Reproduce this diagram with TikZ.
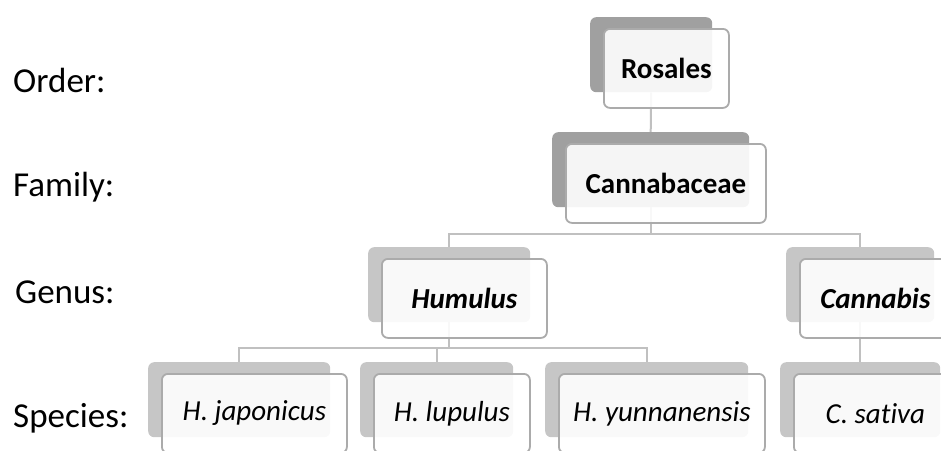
\documentclass[tikz,border=0pt]{standalone}
\usepackage{fontspec}
\setmainfont{Carlito}[Ligatures=NoCommon]
\usetikzlibrary{backgrounds}
\definecolor{shadedark}{HTML}{A0A0A0}
\definecolor{shadelight}{HTML}{C6C6C6}
\definecolor{boxline}{HTML}{ABABAB}
\definecolor{linkgray}{HTML}{C0C0C0}
\tikzset{
	shadowbox/.style={rectangle, rounded corners=6pt, anchor=north west, minimum height=75pt, inner sep=0pt},
	frontbox/.style={rectangle, rounded corners=6pt, anchor=north west, draw=boxline, line width=1.8pt, fill=white, fill opacity=0.9, text opacity=1, minimum height=79pt, inner sep=0pt, font=\fontsize{29}{33}\selectfont},
	link/.style={draw=linkgray, line width=2pt},
	rank/.style={anchor=base west, inner sep=0pt, font=\fontsize{35}{40}\selectfont}
}
\begin{document}
\begin{tikzpicture}[x=1pt,y=-1pt]
		\useasboundingbox (0,0) rectangle (941,450);
		\foreach \n/\x/\y/\w/\c/\t in{
				ros/590/17/122/shadedark/{\bfseries Rosales},
				can/552/132/197/shadedark/{\bfseries Cannabaceae},
				hum/368/247/162/shadelight/{\bfseries\itshape Humulus},
				cnb/786/247/148/shadelight/{\bfseries\itshape Cannabis},
				jap/148/362/182/shadelight/{\itshape H. japonicus},
				lup/360/362/153/shadelight/{\itshape H. lupulus},
				yun/545/362/203/shadelight/{\itshape H. yunnanensis},
				sat/780/362/160/shadelight/{\itshape C. sativa}
		}{
		\node[shadowbox, fill=\c, minimum width=\w pt] (\n-s) at (\x,\y) {};
		\node[frontbox, minimum width=\w pt+3pt] (\n) at ([xshift=13pt,yshift=-11pt]\n-s.north west) {\t};
		}
		\begin{pgfonlayer}{background}
				\draw[link] (ros-s.south) -- (can-s.north);
				\draw[link] (can-s.south) -- ++(0,27) coordinate (genbus);
				\draw[link] (hum-s.north) |- (genbus) -| (cnb-s.north);
				\draw[link] (hum-s.south) -- ++(0,26) coordinate (spbus);
				\draw[link] (jap-s.north) |- (spbus) -| (yun-s.north);
				\draw[link] (lup-s.north) -- (lup-s.north |- spbus);
				\draw[link] (cnb-s.south) -- (sat-s.north);
		\end{pgfonlayer}
		\node[rank] (order) at (13,92) {Order:};
		\node[rank] (family) at (13,196) {Family:};
		\node[rank] (genus) at (15,303) {Genus:};
		\node[rank] (species) at (13,427) {Species:};
\end{tikzpicture}
\end{document}
